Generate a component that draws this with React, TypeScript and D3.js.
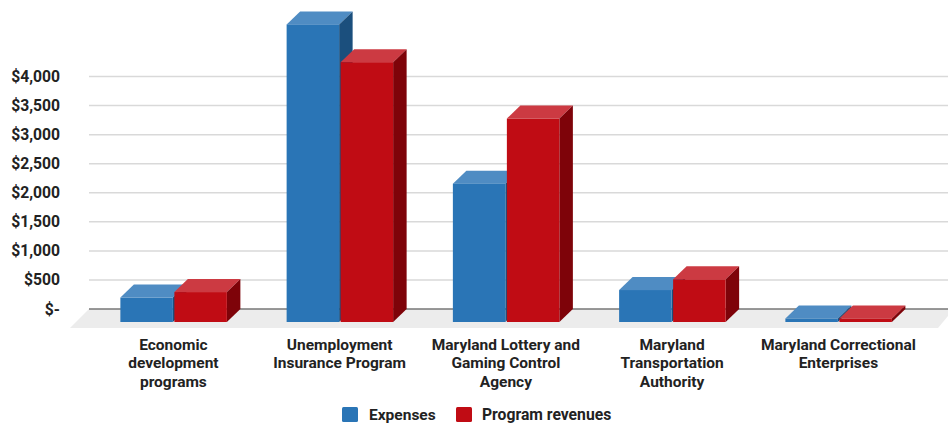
import React from "react";
import * as d3 from "d3";

const categories = [
  ["Economic", "development", "programs"],
  ["Unemployment", "Insurance Program"],
  ["Maryland Lottery and", "Gaming Control", "Agency"],
  ["Maryland", "Transportation", "Authority"],
  ["Maryland Correctional", "Enterprises"],
];
const expenses = [420, 5120, 2380, 550, 60];
const programRevenues = [515, 4470, 3500, 735, 60];
const axisTicks = [0, 500, 1000, 1500, 2000, 2500, 3000, 3500, 4000];
const seriesNames = ["Expenses", "Program revenues"];

const W = 948;
const H = 425;
const depthX = 13.5;
const depthY = 13;
const barW = 52.5;
const font = "Roboto, sans-serif";

const palette = [
  { front: "#2a75b6", top: "#4f8cc3", side: "#1b4f7d" },
  { front: "#c00c14", top: "#cc3a42", side: "#7e0309" },
];

// Value scale on the back wall; bars stand on the floor's front edge, offset by the depth.
const y = d3.scaleLinear().domain([0, 4000]).range([309, 76.5]);
const x = d3
  .scaleBand<number>()
  .domain(d3.range(categories.length))
  .range([90.25, 921.5])
  .paddingInner(0)
  .paddingOuter(0);

const fmt = (v: number) => (v === 0 ? "$-" : "$" + d3.format(",")(v));

function Bar({ left, value, colors }: { left: number; value: number; colors: (typeof palette)[number] }) {
  const bottom = y(0) + depthY;
  const top = y(value) + depthY;
  const right = left + barW;
  const poly = (pts: [number, number][]) => {
    const p = d3.path();
    pts.forEach(([a, b], i) => (i ? p.lineTo(a, b) : p.moveTo(a, b)));
    p.closePath();
    return p.toString();
  };
  return (
    <g>
      <path d={poly([[left, top], [left + depthX, top - depthY], [right + depthX, top - depthY], [right, top]])} fill={colors.top} />
      <path d={poly([[right, top], [right + depthX, top - depthY], [right + depthX, bottom - depthY], [right, bottom]])} fill={colors.side} />
      <rect x={left} y={top} width={barW} height={bottom - top} fill={colors.front} />
    </g>
  );
}

export default function App() {
  const floor = d3.line()([
    [89, 309],
    [948, 309],
    [948, 316],
    [938, 328],
    [70, 328],
  ]) + "Z";
  return (
    <svg width={W} height={H} style={{ position: "absolute", left: 0, top: 0, background: "#fff" }}>
      <path d={floor} fill="#ececec" />
      {axisTicks.map((t) => (
        <line
          key={t}
          x1={89}
          x2={948}
          y1={y(t)}
          y2={y(t)}
          stroke={t === 0 ? "#777777" : "#d9d9d9"}
          strokeWidth={1.5}
        />
      ))}
      {axisTicks.map((t) => (
        <text
          key={t}
          x={60}
          y={y(t) + 5.5}
          textAnchor="end"
          fontFamily={font}
          fontWeight={700}
          fontSize={15.7}
          fill="#222"
        >
          {fmt(t)}
        </text>
      ))}
      {categories.map((_, i) => {
        const cx = x(i)! + x.bandwidth() / 2;
        return (
          <g key={i}>
            <Bar left={cx - barW - 0.5} value={expenses[i]} colors={palette[0]} />
            <Bar left={cx + 1} value={programRevenues[i]} colors={palette[1]} />
          </g>
        );
      })}
      {categories.map((lines, i) => {
        const cx = x(i)! + x.bandwidth() / 2;
        return (
          <text key={i} textAnchor="middle" fontFamily={font} fontWeight={700} fontSize={15.5} fill="#222">
            {lines.map((l, j) => (
              <tspan key={j} x={cx} y={350 + j * 18.3}>
                {l}
              </tspan>
            ))}
          </text>
        );
      })}
      <g fontFamily={font} fontWeight={700} fontSize={15.5} fill="#222">
        <rect x={342} y={407} width={16} height={15} rx={1.5} fill={palette[0].front} />
        <text x={369} y={420}>{seriesNames[0]}</text>
        <rect x={456} y={407} width={16} height={15} rx={1.5} fill={palette[1].front} />
        <text x={482} y={420} fontSize={15.7}>{seriesNames[1]}</text>
      </g>
    </svg>
  );
}
